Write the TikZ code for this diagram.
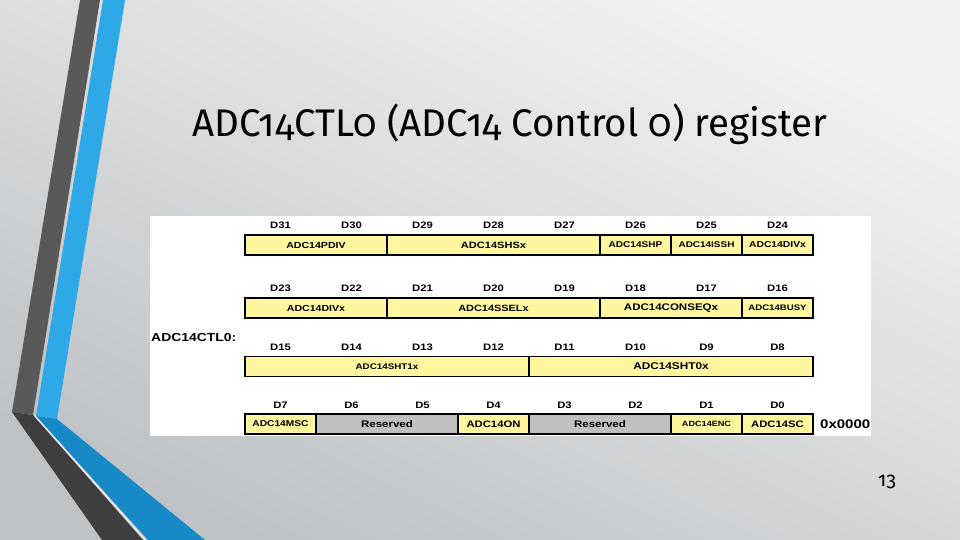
\documentclass[tikz,border=0pt]{standalone}
\usepackage{fontspec}
\setmainfont{Liberation Sans}
\newfontfamily\regfont[FakeStretch=1.2]{Liberation Sans Bold}
\newfontfamily\titlefont[Numbers=OldStyle]{Fira Sans}
\definecolor{bgtop}{RGB}{242,242,242}
\definecolor{bgbot}{RGB}{190,194,197}
\definecolor{darkA}{RGB}{89,89,89}
\definecolor{darkB}{RGB}{62,62,62}
\definecolor{blueA}{RGB}{46,168,230}
\definecolor{blueB}{RGB}{22,137,198}
\definecolor{fieldyellow}{RGB}{255,246,160}
\definecolor{fieldgray}{RGB}{192,192,192}
\newcommand{\fs}[1]{\regfont\fontsize{#1}{10}\selectfont}
\tikzset{
  field/.style={draw=black, line width=1.2pt, fill=fieldyellow, minimum height=20pt, inner sep=0pt, font=\fs{8.6}},
  resfield/.style={field, fill=fieldgray},
  bitlabel/.style={inner sep=0pt, font=\fs{9.4}},
}
\begin{document}
\begin{tikzpicture}[x=1pt,y=-1pt]
\useasboundingbox (0,0) rectangle (960,540);
% background
\shade[top color=bgtop, bottom color=bgbot, shading angle=-25] (0,0) rectangle (960,540);
% decorative bands
\fill[darkA] (80,0) -- (100,0) -- (33,415) -- (12,412) -- cycle;
\fill[blueA] (103,0) -- (125,0) -- (57,419) -- (36,416) -- cycle;
\fill[darkB] (12,412) -- (33,415) -- (143,540) -- (102,540) -- cycle;
\fill[blueB] (36,416) -- (57,419) -- (205,540) -- (148,540) -- cycle;
\draw[white, line width=1.2pt, opacity=0.8] (34.5,415.5) -- (145.5,540);
% title
\node[font=\titlefont\fontsize{38.5}{44}\selectfont, anchor=base] (title) at (510,137) {ADC14CTL0 (ADC14 Control 0) register};
% page number
\node[font=\titlefont\fontsize{20}{24}\selectfont, anchor=base] (pagenum) at (887,486) {13};
% register panel
\fill[white] (150,216) rectangle (871,436);
\node[font=\fs{11.6}, anchor=west, inner sep=0pt] (regname) at (151,338) {ADC14CTL0:};
\node[font=\fs{12.5}, anchor=west, inner sep=0pt] (resetval) at (820,424.5) {0x0000};
% bit labels
\foreach \r/\y/\hi in {0/225/31,1/288/23,2/347/15,3/405/7}{
  \foreach \i in {0,...,7}{
    \pgfmathtruncatemacro{\b}{\hi-\i}
    \node[bitlabel] (lbl\b) at ({280.5+71*\i},\y) {D\b};
  }
}
% row 1 (D31-D24)
\node[field, minimum width=142pt, font=\fs{8.8}] (pdiv) at (316,245) {ADC14PDIV};
\node[field, minimum width=213pt, font=\fs{9.2}] (shs) at (493.5,245) {ADC14SHSx};
\node[field, minimum width=71pt, font=\fs{8.4}] (shp) at (635.5,245) {ADC14SHP};
\node[field, minimum width=71pt, font=\fs{8.3}] (issh) at (706.5,245) {ADC14ISSH};
\node[field, minimum width=71pt, font=\fs{8.6}] (divA) at (777.5,245) {ADC14DIVx};
% row 2 (D23-D16)
\node[field, minimum width=142pt, font=\fs{8.8}] (divB) at (316,308) {ADC14DIVx};
\node[field, minimum width=213pt, font=\fs{9.1}] (ssel) at (493.5,308) {ADC14SSELx};
\node[field, minimum width=142pt, font=\fs{9.6}] (conseq) at (671,308) {ADC14CONSEQx};
\node[field, minimum width=71pt, font=\fs{8.0}] (busy) at (777.5,308) {ADC14BUSY};
% row 3 (D15-D8)
\node[field, minimum width=284pt, font=\fs{8.2}] (sht1) at (387,366.5) {ADC14SHT1x};
\node[field, minimum width=284pt, font=\fs{9.8}] (sht0) at (671,366.5) {ADC14SHT0x};
% row 4 (D7-D0)
\node[field, minimum width=71pt, font=\fs{8.5}] (msc) at (280.5,424) {ADC14MSC};
\node[resfield, minimum width=142pt, font=\fs{9.6}] (resA) at (387,424) {Reserved};
\node[field, minimum width=71pt, font=\fs{9.4}] (on) at (493.5,424) {ADC14ON};
\node[resfield, minimum width=142pt, font=\fs{9.6}] (resB) at (600,424) {Reserved};
\node[field, minimum width=71pt, font=\fs{7.6}] (enc) at (706.5,424) {ADC14ENC};
\node[field, minimum width=71pt, font=\fs{9.4}] (sc) at (777.5,424) {ADC14SC};
\end{tikzpicture}
\end{document}
